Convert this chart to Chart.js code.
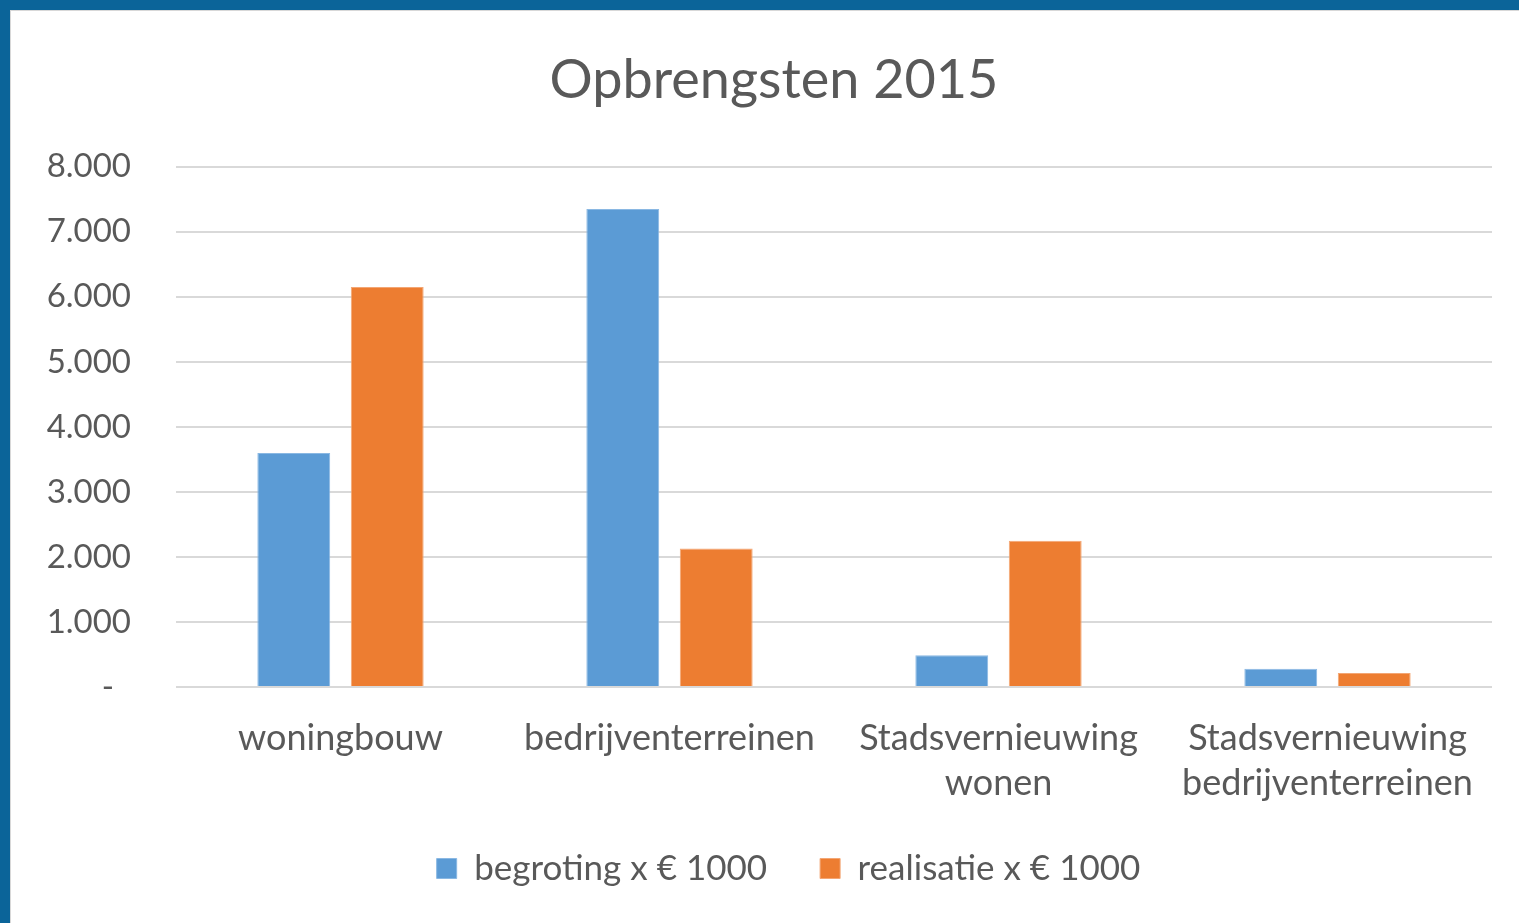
<!DOCTYPE html>
<html>
<head>
<meta charset="utf-8">
<script src="https://cdn.jsdelivr.net/npm/chart.js@4/dist/chart.umd.min.js"></script>
<style>
  html, body { margin: 0; padding: 0; width: 1519px; height: 923px; overflow: hidden; background: #0b6499; }
  #panel { position: absolute; left: 10px; top: 10px; width: 1509px; height: 913px; background: #ffffff;
           border-left: 1px solid #d8d8d8; border-top: 1px solid #d8d8d8; box-sizing: border-box; }
  #c { position: absolute; left: 0; top: 0; }
</style>
</head>
<body>
<div id="panel"></div>
<canvas id="c" width="1519" height="923"></canvas>
<script>
const categories = [
  'woningbouw',
  'bedrijventerreinen',
  ['Stadsvernieuwing', 'wonen'],
  ['Stadsvernieuwing', 'bedrijventerreinen']
];
const seriesNames = ['begroting x € 1000', 'realisatie x € 1000'];
const begroting = [3600, 7350, 490, 280];
const realisatie = [6150, 2130, 2250, 215];
const yTicks = [0, 1000, 2000, 3000, 4000, 5000, 6000, 7000, 8000];
const titleText = 'Opbrengsten 2015';

const textColor = '#595959';
const fontFamily = 'Lato, "Open Sans", sans-serif';

function fmt(v) {
  if (v === 0) return '-  ';
  return String(v).replace(/\B(?=(\d{3})+(?!\d))/g, '.');
}

// shift the title and legend blocks so they are centred like the original,
// and let the x labels' clip area include the descenders of the second line
const shiftBlocks = {
  id: 'shiftBlocks',
  afterLayout(chart) {
    if (chart.titleBlock) chart.titleBlock.left += 46;
    if (chart.legend) chart.legend.left += 75;
    if (chart.scales.x) chart.scales.x.bottom += 20;
  }
};

new Chart(document.getElementById('c'), {
  type: 'bar',
  data: {
    labels: categories,
    datasets: [
      { label: seriesNames[0], data: begroting, backgroundColor: '#5b9bd5', borderColor: '#8ab8e3', borderWidth: 1,
        categoryPercentage: 0.568, barPercentage: 0.78 },
      { label: seriesNames[1], data: realisatie, backgroundColor: '#ed7d31', borderColor: '#f3a674', borderWidth: 1,
        categoryPercentage: 0.568, barPercentage: 0.78 }
    ]
  },
  plugins: [shiftBlocks],
  options: {
    responsive: false,
    devicePixelRatio: 1,
    animation: false,
    layout: { padding: { left: 10, right: 27, top: 10, bottom: 27 } },
    plugins: {
      title: {
        display: true,
        text: titleText,
        color: textColor,
        font: { family: fontFamily, size: 54, weight: 'normal', lineHeight: 1.2 },
        padding: { top: 38, bottom: 54 }
      },
      legend: {
        position: 'bottom',
        labels: {
          color: textColor,
          font: { family: fontFamily, size: 35 },
          boxWidth: 20,
          boxHeight: 20,
          padding: 53
        }
      },
      tooltip: { enabled: false }
    },
    scales: {
      x: {
        grid: { display: false },
        border: { display: false },
        ticks: {
          color: textColor,
          font: { family: fontFamily, size: 36, lineHeight: 1.25 },
          padding: 21,
          maxRotation: 0,
          autoSkip: false
        },
        afterFit: (s) => { s.height = 111; }
      },
      y: {
        min: 0,
        max: 8000,
        afterBuildTicks: (s) => { s.ticks = yTicks.map(v => ({ value: v })); },
        grid: { color: '#d9d9d9', lineWidth: 2, drawTicks: false },
        border: { display: false },
        ticks: {
          color: textColor,
          font: { family: fontFamily, size: 33 },
          padding: 45,
          callback: (v) => fmt(v)
        },
        afterFit: (s) => { s.width = 166; }
      }
    }
  }
});
</script>
</body>
</html>
